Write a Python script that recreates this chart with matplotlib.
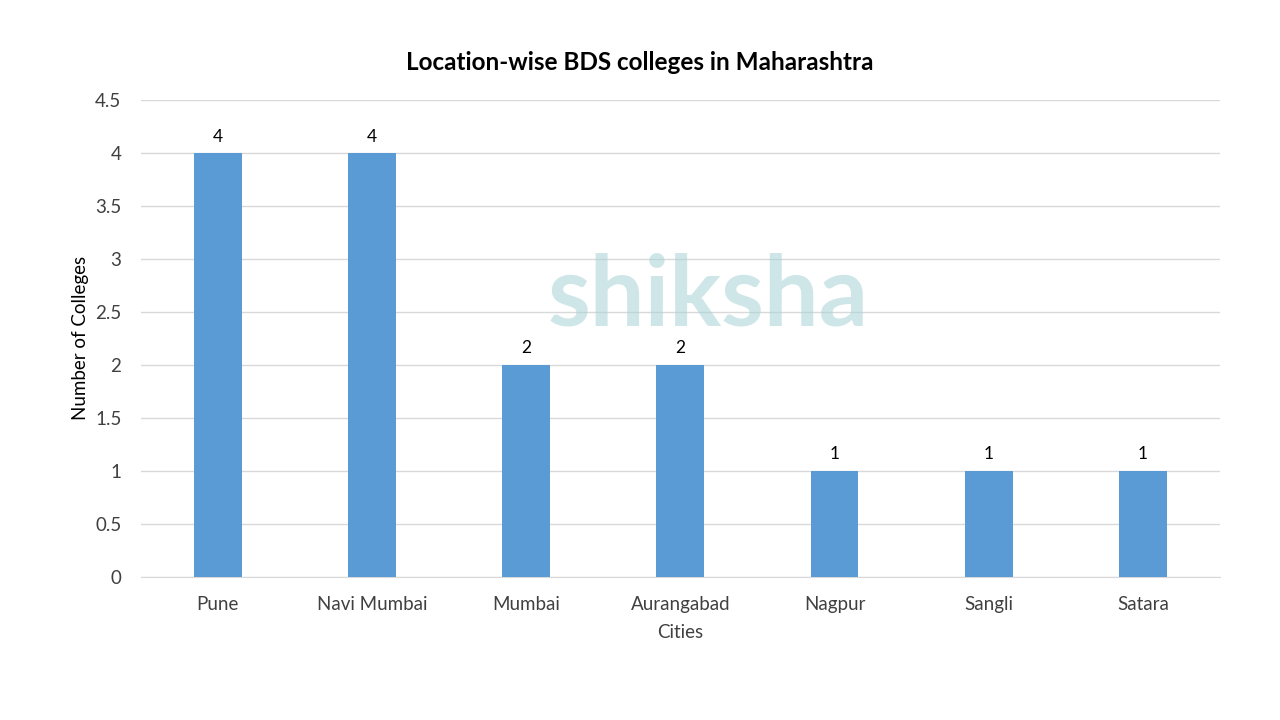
import matplotlib.pyplot as plt

cities = ["Pune", "Navi Mumbai", "Mumbai", "Aurangabad", "Nagpur", "Sangli", "Satara"]
colleges = [4, 4, 2, 2, 1, 1, 1]
yticks = [0, 0.5, 1, 1.5, 2, 2.5, 3, 3.5, 4, 4.5]

plt.rcParams['font.family'] = ['Lato', 'DejaVu Sans']

fig = plt.figure(figsize=(12.8, 7.2), dpi=100)
ax = fig.add_axes([0.110, 0.199, 0.843, 0.662])

# watermark
fig.text(0.553, 0.548, "shiksha", fontsize=70, color="#a8d3d6", alpha=0.55,
         ha="center", va="baseline", fontweight="bold", zorder=0)

x = range(len(cities))
bars = ax.bar(x, colleges, width=0.31, color="#5b9bd5", zorder=3)
for i, v in enumerate(colleges):
    ax.text(i, v + 0.08, str(v), ha="center", va="bottom", fontsize=12.5, color="black")

ax.set_xlim(-0.5, len(cities) - 0.5)
ax.set_ylim(0, 4.5)
ax.set_yticks(yticks)
ax.set_yticklabels(["0", "0.5", "1", "1.5", "2", "2.5", "3", "3.5", "4", "4.5"])
ax.set_xticks(list(x))
ax.set_xticklabels(cities)
ax.tick_params(axis="both", length=0, labelsize=13.5, colors="#404040")
ax.tick_params(axis="x", pad=14)
ax.tick_params(axis="y", pad=14)
ax.grid(axis="y", color="#d9d9d9", linewidth=1, zorder=0)
for s in ["top", "right", "left"]:
    ax.spines[s].set_visible(False)
ax.spines["bottom"].set_color("#d9d9d9")
ax.patch.set_alpha(0)

ax.set_xlabel("Cities", fontsize=13.5, color="#404040", labelpad=8)
ax.set_ylabel("Number of Colleges", fontsize=13.5, color="black", labelpad=4)
fig.text(0.5, 0.913, "Location-wise BDS colleges in Maharashtra", ha="center",
         va="center", fontsize=17.5, fontweight="bold")

plt.savefig("out.png", dpi=100)
